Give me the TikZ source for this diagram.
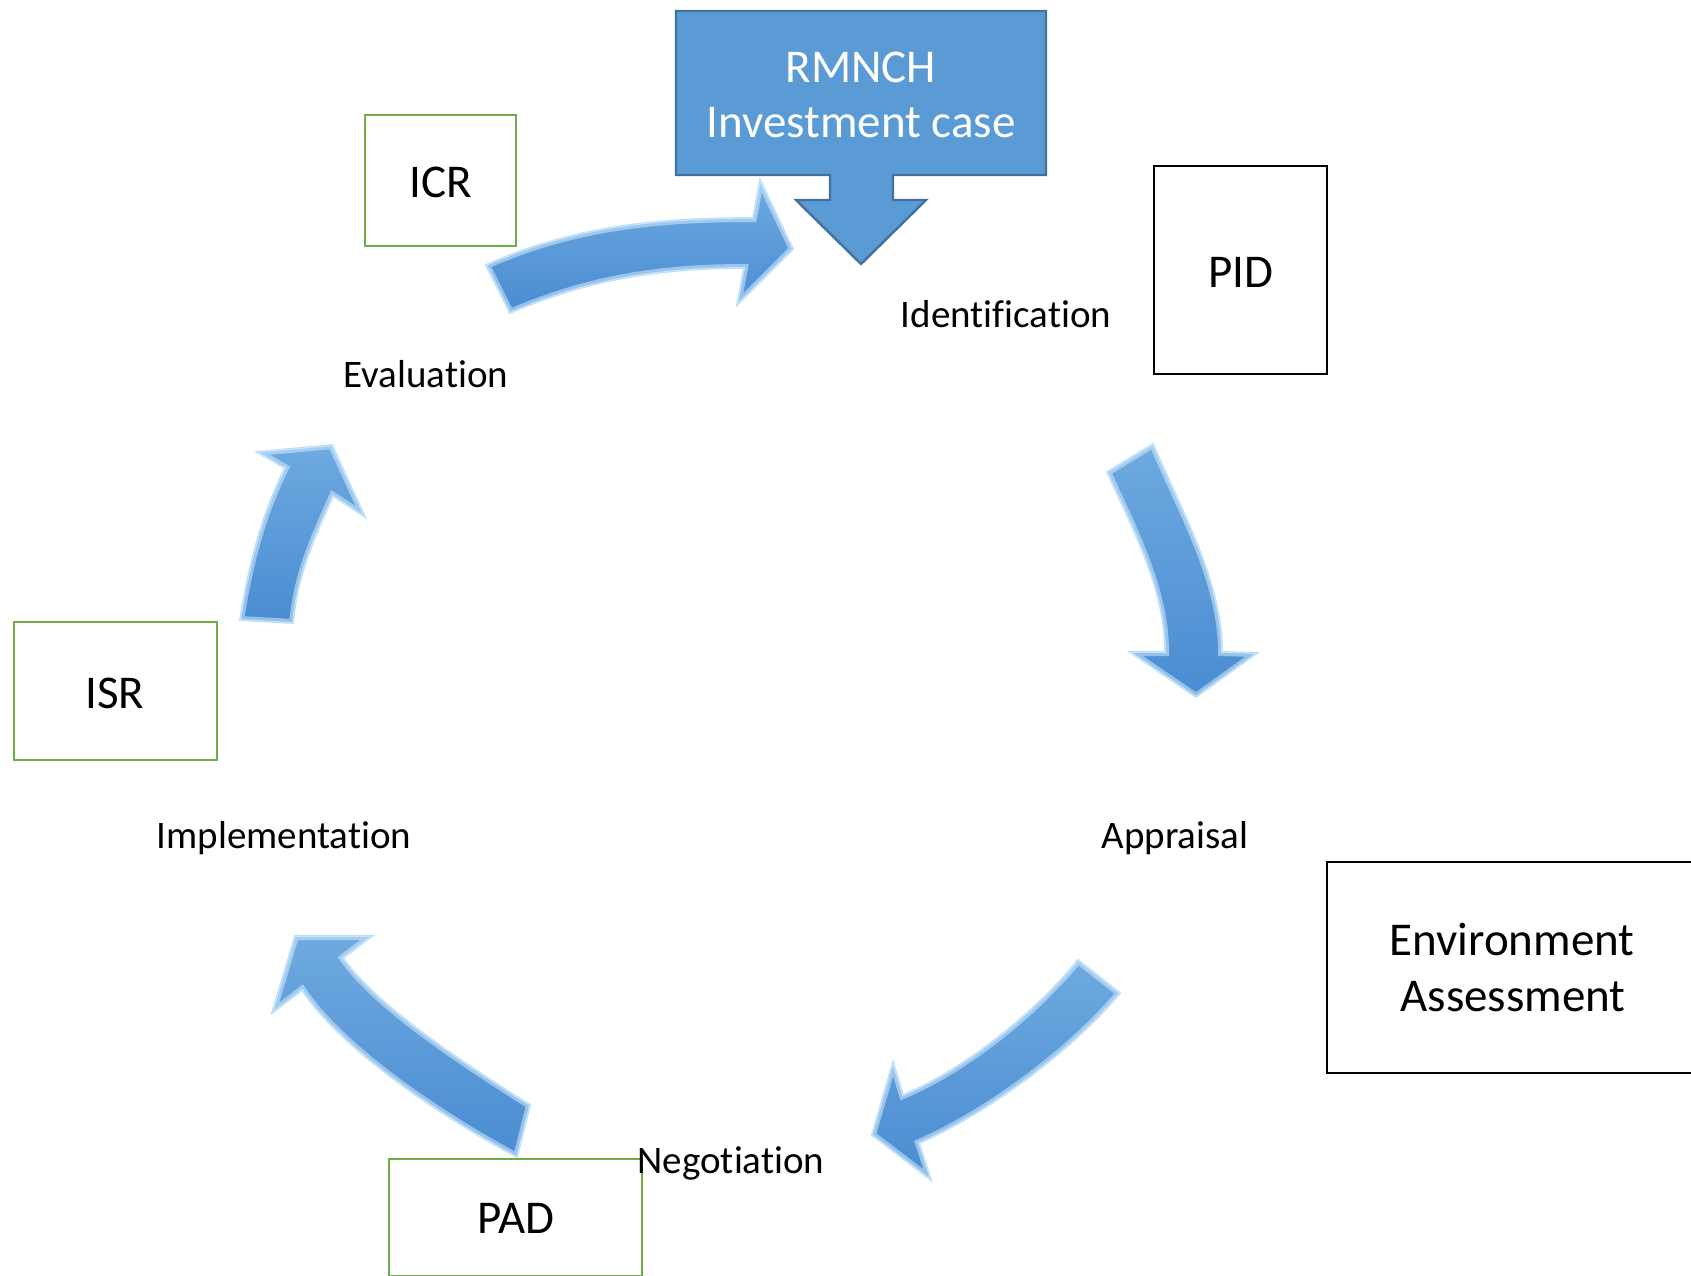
\documentclass[tikz,border=0pt]{standalone}
\usepackage{fontspec}
\setmainfont[Ligatures=NoCommon]{Carlito}
\definecolor{ablue}{HTML}{5B9BD5}
\definecolor{atop}{HTML}{6EAAE0}
\definecolor{abot}{HTML}{4A8CD2}
\definecolor{aedge}{HTML}{B8DDFA}
\definecolor{arim}{HTML}{D6ECFD}
\definecolor{cborder}{HTML}{41719C}
\definecolor{gborder}{HTML}{70AD47}
\begin{document}
\begin{tikzpicture}[x=0.5pt,y=-0.5pt,
  blockarrow/.style={top color=atop,bottom color=abot,draw=aedge,line width=0.9pt,line join=miter},
  arrowrim/.style={draw=arim,line width=4pt,opacity=0.55,line join=miter},
  gbox/.style={draw=gborder,line width=1.2pt},
  kbox/.style={draw=black,line width=1.2pt},
  boxtxt/.style={inner sep=0pt,font=\fontsize{23.5}{28}\selectfont},
  lbl/.style={inner sep=0pt,font=\fontsize{19.5}{23}\selectfont}]
\useasboundingbox (0,0) rectangle (1691,1275);
\clip (0,0) rectangle (1691,1275);

% curved block arrows
% Evaluation -> Identification
\shade[blockarrow] (486,265) .. controls (576,225) and (662,218) .. (753,218) -- (760,180) -- (793,249) -- (737,305) -- (744,268) .. controls (665,268) and (590,278) .. (510,313) -- cycle;
\begin{scope}
\clip (486,265) .. controls (576,225) and (662,218) .. (753,218) -- (760,180) -- (793,249) -- (737,305) -- (744,268) .. controls (665,268) and (590,278) .. (510,313) -- cycle;
\draw[arrowrim] (486,265) .. controls (576,225) and (662,218) .. (753,218) -- (760,180) -- (793,249) -- (737,305) -- (744,268) .. controls (665,268) and (590,278) .. (510,313) -- cycle;
\end{scope}
% Identification -> Appraisal
\shade[blockarrow] (1153,444) .. controls (1183,514) and (1222,582) .. (1222,652) -- (1257,653) -- (1196,697) -- (1130,652) -- (1165,652) .. controls (1165,592) and (1137,537) .. (1107,472) -- cycle;
\begin{scope}
\clip (1153,444) .. controls (1183,514) and (1222,582) .. (1222,652) -- (1257,653) -- (1196,697) -- (1130,652) -- (1165,652) .. controls (1165,592) and (1137,537) .. (1107,472) -- cycle;
\draw[arrowrim] (1153,444) .. controls (1183,514) and (1222,582) .. (1222,652) -- (1257,653) -- (1196,697) -- (1130,652) -- (1165,652) .. controls (1165,592) and (1137,537) .. (1107,472) -- cycle;
\end{scope}
% Appraisal -> Negotiation
\shade[blockarrow] (1120,993) .. controls (1070,1053) and (984,1115) .. (919,1143) -- (931,1180) -- (872,1135) -- (893,1062) -- (903,1095) .. controls (963,1070) and (1033,1015) .. (1078,960) -- cycle;
\begin{scope}
\clip (1120,993) .. controls (1070,1053) and (984,1115) .. (919,1143) -- (931,1180) -- (872,1135) -- (893,1062) -- (903,1095) .. controls (963,1070) and (1033,1015) .. (1078,960) -- cycle;
\draw[arrowrim] (1120,993) .. controls (1070,1053) and (984,1115) .. (919,1143) -- (931,1180) -- (872,1135) -- (893,1062) -- (903,1095) .. controls (963,1070) and (1033,1015) .. (1078,960) -- cycle;
\end{scope}
% Negotiation -> Implementation
\shade[blockarrow] (517,1157) .. controls (442,1117) and (342,1050) .. (302,990) -- (272,1013) -- (295,936) -- (372,936) -- (343,958) .. controls (378,1008) and (470,1067) .. (530,1105) -- cycle;
\begin{scope}
\clip (517,1157) .. controls (442,1117) and (342,1050) .. (302,990) -- (272,1013) -- (295,936) -- (372,936) -- (343,958) .. controls (378,1008) and (470,1067) .. (530,1105) -- cycle;
\draw[arrowrim] (517,1157) .. controls (442,1117) and (342,1050) .. (302,990) -- (272,1013) -- (295,936) -- (372,936) -- (343,958) .. controls (378,1008) and (470,1067) .. (530,1105) -- cycle;
\end{scope}
% Implementation -> Evaluation
\shade[blockarrow] (240,620) .. controls (248,570) and (260,518) .. (285,468) -- (257,452) -- (332,445) -- (365,517) -- (333,496) .. controls (313,541) and (298,573) .. (293,623) -- cycle;
\begin{scope}
\clip (240,620) .. controls (248,570) and (260,518) .. (285,468) -- (257,452) -- (332,445) -- (365,517) -- (333,496) .. controls (313,541) and (298,573) .. (293,623) -- cycle;
\draw[arrowrim] (240,620) .. controls (248,570) and (260,518) .. (285,468) -- (257,452) -- (332,445) -- (365,517) -- (333,496) .. controls (313,541) and (298,573) .. (293,623) -- cycle;
\end{scope}

% RMNCH callout
\draw[fill=ablue,draw=cborder,line width=1.2pt,line join=miter] (676,11) -- (1046,11) -- (1046,175) -- (893,175) -- (893,200) -- (926,200) -- (861,264) -- (796,200) -- (830,200) -- (830,175) -- (676,175) -- cycle;
\node[boxtxt,text=white,anchor=base] (rmnch1) at (861,82) {RMNCH};
\node[boxtxt,text=white,anchor=base] (rmnch2) at (861,137) {Investment case};

% document boxes
\draw[gbox] (365,115) rectangle (516,246);
\node[boxtxt,anchor=base] (icr) at (441,197) {ICR};
\draw[kbox] (1154,166) rectangle (1327,374);
\node[boxtxt,anchor=base] (pid) at (1241,287) {PID};
\draw[kbox] (1327,862) rectangle (1700,1073);
\node[boxtxt,anchor=base] (env1) at (1512,955) {Environment};
\node[boxtxt,anchor=base] (env2) at (1513,1011) {Assessment};
\draw[gbox] (14,622) rectangle (217,760);
\node[boxtxt,anchor=base] (isr) at (115,708) {ISR};
\draw[gbox] (389,1159) rectangle (642,1276);
\node[boxtxt,anchor=base] (pad) at (516,1233) {PAD};

% stage labels
\node[lbl,anchor=base] (ident) at (1006,327) {Identification};
\node[lbl,anchor=base] (eval) at (426,387) {Evaluation};
\node[lbl,anchor=base] (appr) at (1175,848) {Appraisal};
\node[lbl,anchor=base] (impl) at (284,848) {Implementation};
\node[lbl,anchor=base] (nego) at (731,1173) {Negotiation};
\end{tikzpicture}
\end{document}
